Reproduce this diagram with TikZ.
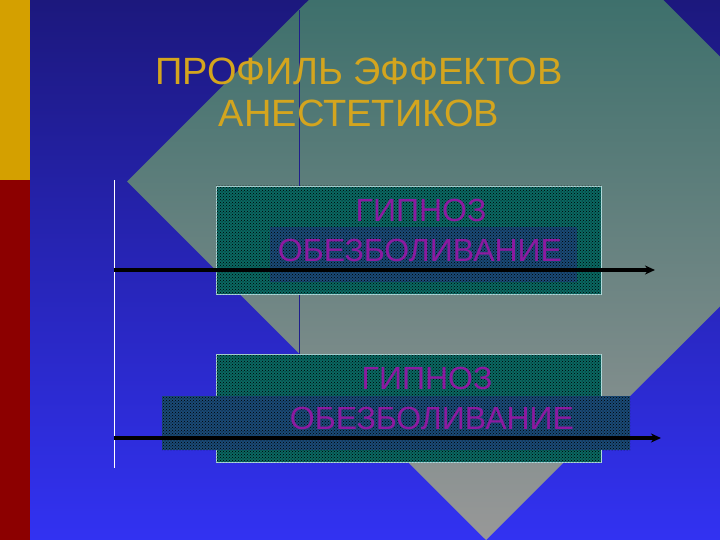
\documentclass[tikz,border=0pt]{standalone}
\usepackage{fontspec}
\setmainfont{Liberation Sans}
\usetikzlibrary{arrows.meta,patterns}
\definecolor{navytop}{RGB}{28,24,125}
\definecolor{bluebot}{RGB}{50,50,242}
\definecolor{diatop}{RGB}{62,112,108}
\definecolor{diabot}{RGB}{152,152,152}
\definecolor{barGold}{RGB}{212,160,0}
\definecolor{barRed}{RGB}{140,0,0}
\definecolor{navyline}{RGB}{30,30,140}
\definecolor{boxteal}{RGB}{10,104,98}
\definecolor{bandblue}{RGB}{26,74,118}
\definecolor{boxedge}{RGB}{175,220,220}
\definecolor{lblpurple}{RGB}{140,26,160}
\definecolor{titlegold}{RGB}{212,165,30}
\tikzset{
  boxshape/.style={draw=boxedge, line width=0.8pt, fill=boxteal, inner sep=0pt, outer sep=0pt,
    postaction={pattern=crosshatch dots, pattern color=black}},
  bandshape/.style={fill=bandblue, inner sep=0pt, outer sep=0pt,
    postaction={pattern=crosshatch dots, pattern color=black}},
  lbl/.style={text=lblpurple, font=\fontsize{32}{36}\selectfont, inner sep=0pt},
  arrowline/.style={line width=4pt, -{Stealth[length=10pt,width=9pt]}},
}
\begin{document}
\begin{tikzpicture}[x=1pt,y=-1pt]
\useasboundingbox (0,0) rectangle (720,540);
% background
\shade[top color=navytop, bottom color=bluebot] (0,0) rectangle (720,540);
% diamond
\begin{scope}
\clip (127,181.5) -- (486,-177) -- (845,181.5) -- (486,540) -- cycle;
\shade[top color=diatop, bottom color=diabot] (0,0) rectangle (720,540);
\end{scope}
% left bars
\fill[barGold] (0,0) rectangle (30,180);
\fill[barRed] (0,180) rectangle (30,540);
% thin lines
\coordinate (n1) at (299,10);
\coordinate (n2) at (299,355);
\draw[navyline, line width=1pt] (n1) -- (n2);
\coordinate (w1) at (114,180);
\coordinate (w2) at (114,468);
\draw[white, line width=1pt] (w1) -- (w2);
% title
\node[text=titlegold, align=center, font=\fontsize{38}{42}\selectfont, inner sep=0pt] (title) at (359,92) {ПРОФИЛЬ ЭФФЕКТОВ\\АНЕСТЕТИКОВ};
% box 1
\node[boxshape, minimum width=385pt, minimum height=108pt] (box1) at (408.5,240) {};
\node[bandshape, minimum width=307pt, minimum height=55pt] (band1) at (423.5,254.5) {};
\node[lbl] (hyp1) at (421,210) {ГИПНОЗ};
\node[lbl] (ana1) at (420,250) {ОБЕЗБОЛИВАНИЕ};
% box 2
\node[boxshape, minimum width=385pt, minimum height=108pt] (box2) at (408.5,408) {};
\node[bandshape, minimum width=468pt, minimum height=54pt] (band2) at (396,423) {};
\node[lbl] (hyp2) at (427,378.5) {ГИПНОЗ};
\node[lbl] (ana2) at (432,418.5) {ОБЕЗБОЛИВАНИЕ};
% arrows
\coordinate (a1s) at (114,270);
\coordinate (a1e) at (655,270);
\draw[arrowline] (a1s) -- (a1e);
\coordinate (a2s) at (114,438);
\coordinate (a2e) at (661,438);
\draw[arrowline] (a2s) -- (a2e);
\end{tikzpicture}
\end{document}
